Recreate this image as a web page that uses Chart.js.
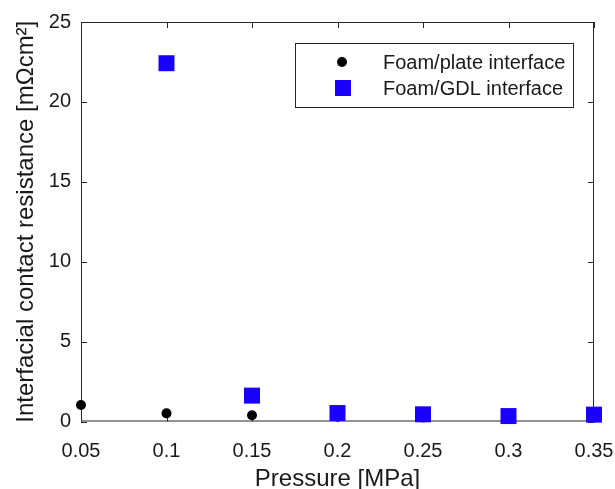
<!DOCTYPE html>
<html>
<head>
<meta charset="utf-8">
<style>
  html, body { margin: 0; padding: 0; background: #fff; }
  #wrap { width: 615px; height: 489px; position: relative; }
</style>
<script src="https://cdn.jsdelivr.net/npm/chart.js@4/dist/chart.umd.min.js"></script>
</head>
<body>
<div id="wrap"><canvas id="chart" width="615" height="489"></canvas></div>
<script>
// ---- data ----
const pressure = [0.05, 0.1, 0.15, 0.2, 0.25, 0.3, 0.35];
const plateResistance = [1.03, 0.51, 0.39, 0.3, 0.25, 0.2, 0.25];

const pressureGdl = [0.1, 0.15, 0.2, 0.25, 0.3, 0.35];
const gdlResistance = [22.42, 1.62, 0.53, 0.45, 0.34, 0.43];

const xTicks = [0.05, 0.1, 0.15, 0.2, 0.25, 0.3, 0.35];
const xTickLabels = ['0.05', '0.1', '0.15', '0.2', '0.25', '0.3', '0.35'];
const yTicks = [0, 5, 10, 15, 20, 25];

const seriesNames = ['Foam/plate interface', 'Foam/GDL interface'];

const AXIS = '#262626';
const BLUE = '#1a00ff';
const FONT = 'Arial, "Liberation Sans", Helvetica, sans-serif';

// box round the plot + inward ticks (under the markers), legend on top
const framePlugin = {
  id: 'frame',
  beforeDatasetsDraw(chart) {
    const { ctx, chartArea: a, scales } = chart;
    const tl = 6;
    ctx.save();
    ctx.strokeStyle = AXIS;
    ctx.lineWidth = 1;
    ctx.strokeRect(a.left + 0.5, a.top + 0.5, a.right - a.left - 1, a.bottom - a.top - 1);
    ctx.beginPath();
    xTicks.forEach(v => {
      const x = Math.round(scales.x.getPixelForValue(v)) + 0.5;
      ctx.moveTo(x, a.bottom); ctx.lineTo(x, a.bottom - tl);
      ctx.moveTo(x, a.top); ctx.lineTo(x, a.top + tl);
    });
    yTicks.forEach(v => {
      const y = Math.round(scales.y.getPixelForValue(v)) + 0.5;
      ctx.moveTo(a.left, y); ctx.lineTo(a.left + tl, y);
      ctx.moveTo(a.right, y); ctx.lineTo(a.right - tl, y);
    });
    ctx.stroke();
    ctx.restore();
  },
  afterDraw(chart) {
    const { ctx } = chart;
    const lx = 295, ly = 43, lw = 278, lh = 64;
    ctx.save();
    ctx.strokeStyle = AXIS;
    ctx.lineWidth = 1;
    ctx.fillStyle = '#fff';
    ctx.fillRect(lx, ly, lw, lh);
    ctx.strokeRect(lx + 0.5, ly + 0.5, lw, lh);
    ctx.fillStyle = '#000';
    ctx.beginPath();
    ctx.arc(342, 62, 5, 0, Math.PI * 2);
    ctx.fill();
    ctx.fillStyle = BLUE;
    ctx.fillRect(335, 80, 16, 16);
    ctx.fillStyle = '#1a1a1a';
    ctx.font = '20px ' + FONT;
    ctx.textBaseline = 'middle';
    ctx.textAlign = 'left';
    ctx.fillText(seriesNames[0], 383, 63);
    ctx.fillText(seriesNames[1], 383, 89);
    ctx.restore();
  }
};

new Chart(document.getElementById('chart'), {
  type: 'scatter',
  data: {
    datasets: [
      {
        label: seriesNames[0],
        data: pressure.map((p, i) => ({ x: p, y: plateResistance[i] })),
        pointStyle: 'circle',
        pointRadius: 5,
        pointBorderWidth: 0,
        backgroundColor: '#000',
        borderColor: '#000',
        clip: false,
        order: 2,
      },
      {
        label: seriesNames[1],
        data: pressureGdl.map((p, i) => ({ x: p, y: gdlResistance[i] })),
        pointStyle: 'rect',
        pointRadius: 11.3,
        pointBorderWidth: 0,
        backgroundColor: BLUE,
        borderColor: BLUE,
        clip: false,
        order: 1,
      },
    ],
  },
  options: {
    responsive: false,
    animation: false,
    layout: { autoPadding: false, padding: { left: 0, right: 21, top: 21, bottom: 0 } },
    plugins: {
      legend: { display: false },
      tooltip: { enabled: false },
    },
    scales: {
      x: {
        type: 'linear',
        min: 0.05,
        max: 0.35,
        afterBuildTicks: s => { s.ticks = xTicks.map(v => ({ value: v })); },
        afterFit: s => { s.height = 67.5; s.paddingLeft = 0; s.paddingRight = 0; },
        grid: { display: false, drawTicks: false },
        border: { display: false },
        ticks: {
          padding: 18,
          color: '#1a1a1a',
          font: { size: 20, family: FONT },
          maxRotation: 0,
          callback: (v, i) => xTickLabels[i],
        },
        title: {
          display: true,
          text: 'Pressure [MPa]',
          color: '#1a1a1a',
          font: { size: 24, family: FONT },
          padding: { top: 0, bottom: -5 },
        },
      },
      y: {
        min: 0,
        max: 25,
        afterBuildTicks: s => { s.ticks = yTicks.map(v => ({ value: v })); },
        afterFit: s => { s.width = 81; },
        grid: { display: false, drawTicks: false },
        border: { display: false },
        ticks: {
          padding: 10,
          color: '#1a1a1a',
          font: { size: 20, family: FONT },
        },
        title: {
          display: true,
          text: 'Interfacial contact resistance [mΩcm²]',
          color: '#1a1a1a',
          font: { size: 24, family: FONT },
          padding: { top: 12, bottom: 0 },
        },
      },
    },
  },
  plugins: [framePlugin],
});
</script>
</body>
</html>
